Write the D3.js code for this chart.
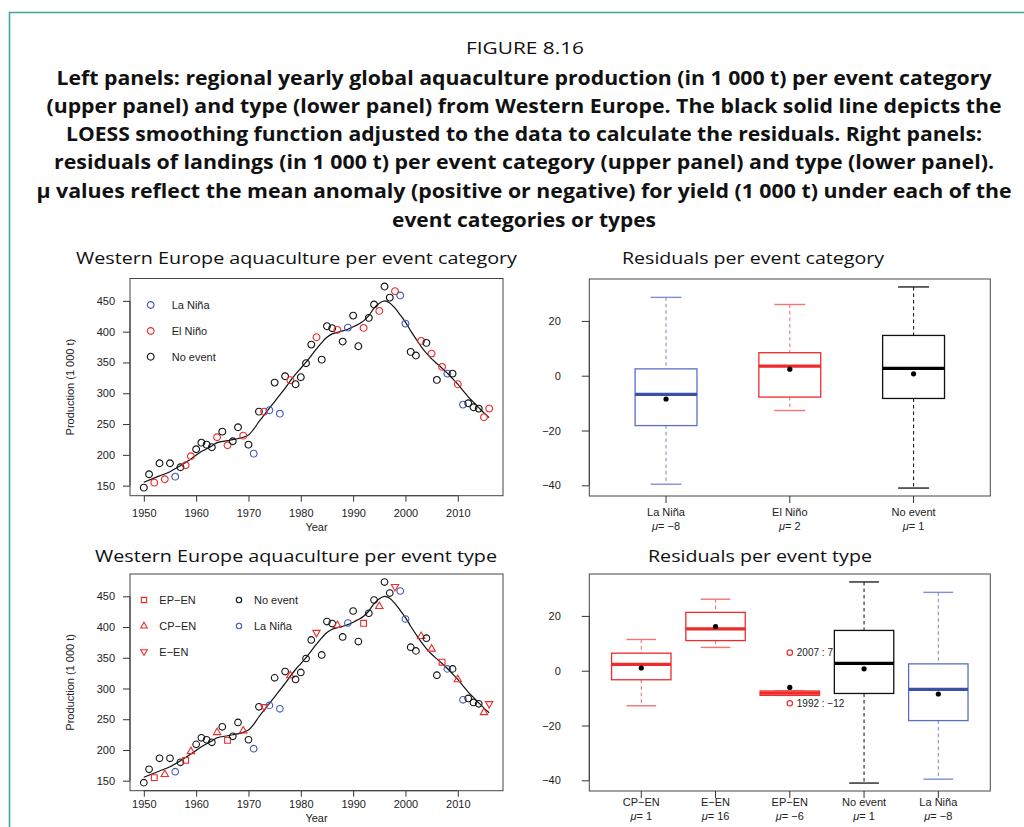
<!DOCTYPE html>
<html><head><meta charset="utf-8">
<script src="https://cdn.jsdelivr.net/npm/d3@7"></script>
<style>body{margin:0;background:#fff}</style></head>
<body><svg id="c" width="1024" height="827"></svg>
<script>
// ---------------- DATA ----------------
const years = [1950,1951,1952,1953,1954,1955,1956,1957,1958,1959,1960,1961,1962,1963,1964,1965,1966,1967,1968,1969,
1970,1971,1972,1973,1974,1975,1976,1977,1978,1979,1980,1981,1982,1983,1984,1985,1986,1987,1988,1989,
1990,1991,1992,1993,1994,1995,1996,1997,1998,1999,2000,2001,2002,2003,2004,2005,2006,2007,2008,2009,
2010,2011,2012,2013,2014,2015,2016];
const production = [146.8,168.5,154.9,186.4,160.4,186.4,164.6,179.9,183.1,197.7,209.1,219.8,216.6,212.4,228.6,237.7,215.6,222.1,244.8,231.2,
216.6,202.0,270.2,270.2,272.5,317.3,266.9,327.6,321.2,314.7,326.1,348.8,379.0,391.0,354.6,408.9,405.6,402.9,383.9,406.6,
426.1,376.4,406.1,422.4,444.0,433.7,473.2,455.3,465.7,458.6,413.1,367.2,361.2,385.0,381.8,364.4,321.7,342.8,331.9,331.9,
314.7,281.6,283.8,277.3,275.1,261.1,275.1];
// event type per year: N = No event, LN = La Niña, EP = EP-EN, CP = CP-EN, E = E-EN
const eventType = ["N","N","EP","N","CP","N","LN","N","EP","CP","N","N","N","N","CP","N","EP","N","N","CP",
"N","LN","N","E","LN","N","LN","N","CP","N","N","N","N","E","N","N","N","CP","N","LN",
"N","N","EP","N","N","CP","N","N","E","LN","LN","N","N","CP","N","CP","N","EP","LN","N",
"CP","LN","N","N","N","CP","E"];
// LOESS smooth
const smoothYears = [1950,1953,1955,1957,1959,1961,1963,1964,1966,1967,1969,1970,1971,1972,1973,1974,1975,1976,1977,1978,1979,1980,
1981,1982,1983,1984,1985,1986,1987,1988,1989,1990,1991,1992,1993,1994,1995,1996,1997,1998,1999,2000,2001,2002,2003,2004,2005,2006,2007,2008,2009,2010,2011,2012,2013,2014,2015,2016];
const smoothValues = [155.5,165.8,172.7,182.5,193.4,205.3,214.5,219.8,223.1,224.7,228.6,232.3,241.6,254.0,264.8,275.7,286.4,297.3,308.2,320.0,330.9,340.6,
350.4,361.2,372.0,382.3,391.0,396.4,399.1,401.3,404.0,407.8,412.1,417.5,426.1,438.1,446.2,450.0,446.7,438.1,427.2,415.4,401.3,388.3,375.8,365.0,355.8,348.2,340.6,332.6,323.8,314.7,304.3,294.1,285.5,276.7,268.1,260.5];
const prodTicks = [150,200,250,300,350,400,450];
const yearTicks = [1950,1960,1970,1980,1990,2000,2010];
const residTicks = [-40,-20,0,20];
// residual box statistics: [lowWhisker, q1, median, q3, highWhisker, mean]
const catGroups = ["La Niña","El Niño","No event"];
const catMu = ["−8","2","1"];
const catStats = [[-39.6,-18.2,-6.8,2.5,28.6,-8.5],[-12.7,-7.8,3.5,8.4,26.0,2.4],[-41.0,-8.3,2.7,14.7,32.4,0.7]];
const typeGroups = ["CP−EN","E−EN","EP−EN","No event","La Niña"];
const typeMu = ["1","16","−6","1","−8"];
const typeStats = [[-12.8,-3.3,2.3,6.4,11.4,1.0],[8.5,11.0,15.3,21.3,26.1,16.1],[-9.0,-9.0,-8.2,-7.4,-7.4,-6.1],
  [-41.0,-8.3,2.7,14.7,32.4,0.7],[-39.6,-18.2,-6.8,2.5,28.6,-8.5]];
const typeOutliers = [{g:2,v:6.6,label:"2007 : 7"},{g:2,v:-11.9,label:"1992 : −12"}];
const titleLines = ["Left panels: regional yearly global aquaculture production (in 1 000 t) per event category",
"(upper panel) and type (lower panel) from Western Europe. The black solid line depicts the",
"LOESS smoothing function adjusted to the data to calculate the residuals. Right panels:",
"residuals of landings (in 1 000 t) per event category (upper panel) and type (lower panel).",
"μ values reflect the mean anomaly (positive or negative) for yield (1 000 t) under each of the",
"event categories or types"];

// ---------------- STYLE ----------------
const BLUE="#4257b8", BLUE_D="#3a4fa6", BLUE_L="#7f90d4";
const RED="#ee2a2a", RED_L="#f27474";
const BLACK="#111";
const AX="Liberation Sans, Arial, sans-serif";
const TF="Open Sans, sans-serif";
const svg=d3.select("#c");
svg.append("rect").attr("width",1024).attr("height",827).attr("fill","#fff");
// teal frame
svg.append("path").attr("d","M9.5,827V12.5H1024").attr("fill","none").attr("stroke","#3fa5a3").attr("stroke-width",1.6);

// titles
svg.append("text").attr("x",525).attr("y",54).attr("text-anchor","middle").attr("font-family",TF)
  .attr("font-size",17).attr("fill","#111").attr("textLength",118).attr("lengthAdjust","spacingAndGlyphs").text("FIGURE 8.16");
const tW=[935,955,916,940,975,264], tY=[85,113,141,169,198,227];
titleLines.forEach((t,i)=>{
  svg.append("text").attr("x",524).attr("y",tY[i]).attr("text-anchor","middle").attr("font-family",TF)
   .attr("font-weight",700).attr("font-size",20).attr("fill","#111")
   .attr("textLength",tW[i]).attr("lengthAdjust","spacingAndGlyphs").text(t);
});
function panelTitle(x,y,w,t){
  svg.append("text").attr("x",x).attr("y",y).attr("text-anchor","middle").attr("font-family",TF)
   .attr("font-size",17).attr("fill","#111").attr("textLength",w).attr("lengthAdjust","spacingAndGlyphs").text(t);
}
panelTitle(296.5,264,441,"Western Europe aquaculture per event category");
panelTitle(753,264,262,"Residuals per event category");
panelTitle(296,562,402,"Western Europe aquaculture per event type");
panelTitle(760,562,224,"Residuals per event type");

function styleAxis(g){
  g.selectAll("text").attr("font-family",AX).attr("font-size",11).attr("fill","#222");
  g.selectAll("line").attr("stroke","#333");
  g.select(".domain").attr("stroke","#333");
}

// symbol paths
const symPath = {
  circle: r=>`M${r},0A${r},${r} 0 1,1 ${-r},0A${r},${r} 0 1,1 ${r},0Z`,
  square: s=>`M${-s},${-s}h${2*s}v${2*s}h${-2*s}Z`,
  up: s=>`M0,${-s*1.15}L${s},${s*0.6}L${-s},${s*0.6}Z`,
  down: s=>`M0,${s*1.15}L${s},${-s*0.6}L${-s},${-s*0.6}Z`
};
function catOf(t){return t==="N"?"N":(t==="LN"?"LN":"EN");}

// ---------------- SCATTER PANELS ----------------
function scatterPanel(top, bottom, mode, xLabY, yearY){
  const x=d3.scaleLinear().domain([1947.36,2018.64]).range([130,503]);
  const y=d3.scaleLinear().domain([133.7,486.3]).range([bottom,top]);
  const g=svg.append("g");
  // axes
  const ga=g.append("g").attr("transform","translate(130,0)")
    .call(d3.axisLeft(y).tickValues(prodTicks).tickSize(7).tickPadding(8).tickSizeOuter(0));
  styleAxis(ga);
  const gb=g.append("g").attr("transform",`translate(0,${bottom})`)
    .call(d3.axisBottom(x).tickValues(yearTicks).tickFormat(d3.format("d")).tickSize(6).tickPadding(0).tickSizeOuter(0));
  styleAxis(gb);
  gb.selectAll("text").attr("dy",null).attr("y",xLabY-bottom);
  ga.select(".domain").attr("d",`M0,${y(150)}V${y(450)}`);
  gb.select(".domain").attr("d",`M${x(1950)},0H${x(2010)}`);
  g.append("rect").attr("x",130).attr("y",top).attr("width",373).attr("height",bottom-top)
    .attr("fill","none").attr("stroke","#444").attr("stroke-width",1);
  g.append("text").attr("x",x(1950+ (2018.64-1947.36)/2 -2.64+1.32+0.0)).attr("x",316.5).attr("y",yearY).attr("text-anchor","middle")
    .attr("font-family",AX).attr("font-size",11).attr("fill","#222").text("Year");
  const cy=(top+bottom)/2;
  g.append("text").attr("transform",`translate(74,${cy}) rotate(-90)`).attr("text-anchor","middle")
    .attr("font-family",AX).attr("font-size",11).attr("fill","#222").text("Production (1 000 t)");
  // smooth
  const line=d3.line().x((d,i)=>x(smoothYears[i])).y(d=>y(d)).curve(d3.curveCatmullRom.alpha(0.5));
  g.append("path").attr("d",line(smoothValues)).attr("fill","none").attr("stroke","#111").attr("stroke-width",1.2);
  // points
  years.forEach((yr,i)=>{
    const t=eventType[i]; let col, d;
    if(mode==="cat"){
      const c=catOf(t); col=c==="N"?BLACK:(c==="LN"?BLUE:RED); d=symPath.circle(3.4);
    } else {
      if(t==="N"){col=BLACK;d=symPath.circle(3.3);}
      else if(t==="LN"){col=BLUE;d=symPath.circle(3.3);}
      else {col=RED; d= t==="EP"?symPath.square(2.9):(t==="CP"?symPath.up(3.7):symPath.down(3.7));}
    }
    g.append("path").attr("d",d).attr("transform",`translate(${x(yr)},${y(production[i])})`)
      .attr("fill","none").attr("stroke",col).attr("stroke-width",1.1);
  });
  // legend
  const lt=(sx,tx,yy,d,col,txt)=>{
    g.append("path").attr("d",d).attr("transform",`translate(${sx},${yy})`).attr("fill","none").attr("stroke",col).attr("stroke-width",1.1);
    g.append("text").attr("x",tx).attr("y",yy+4).attr("font-family",AX).attr("font-size",11).attr("fill","#222").text(txt);
  };
  if(mode==="cat"){
    lt(150.7,171.7,top+26.5,symPath.circle(3.4),BLUE,"La Niña");
    lt(150.7,171.7,top+52.5,symPath.circle(3.4),RED,"El Niño");
    lt(150.7,171.7,top+78.2,symPath.circle(3.4),BLACK,"No event");
  } else {
    lt(144,159.3,top+26,symPath.square(2.6),RED,"EP−EN");
    lt(144,159.3,top+52,symPath.up(3.3),RED,"CP−EN");
    lt(144,159.3,top+77.7,symPath.down(3.3),RED,"E−EN");
    lt(239,254,top+26,symPath.circle(2.7),BLACK,"No event");
    lt(239,254,top+52,symPath.circle(2.7),BLUE,"La Niña");
  }
}
scatterPanel(278.5,495.7,"cat",517,531);
scatterPanel(574,790.7,"type",808,822);

// ---------------- BOX PANELS ----------------
function boxPanel(top,bottom,groups,mus,stats,colors,boxW,lab1Y,lab2Y,outliers){
  const n=groups.length;
  const pad=n*0.04;
  const x=d3.scaleLinear().domain([0.5-pad,n+0.5+pad]).range([589.3,990.3]);
  const y=d3.scaleLinear().domain([-43.9,35.3]).range([bottom,top]);
  const g=svg.append("g");
  const ga=g.append("g").attr("transform","translate(589.3,0)")
    .call(d3.axisLeft(y).tickValues(residTicks).tickSize(7.5).tickPadding(21).tickSizeOuter(0));
  styleAxis(ga);
  ga.select(".domain").attr("d",`M0,${y(-40)}V${y(20)}`);
  g.append("rect").attr("x",589.3).attr("y",top).attr("width",401).attr("height",bottom-top)
    .attr("fill","none").attr("stroke","#444").attr("stroke-width",1);
  stats.forEach((s,i)=>{
    const cx=x(i+1), c=colors[i];
    const hw=(x(boxW/2)-x(0)), sw=hw/2;
    // whiskers
    g.append("line").attr("x1",cx).attr("x2",cx).attr("y1",y(s[4])).attr("y2",y(s[3]))
      .attr("stroke",c.w).attr("stroke-dasharray","3.5,3").attr("stroke-width",1.1);
    g.append("line").attr("x1",cx).attr("x2",cx).attr("y1",y(s[1])).attr("y2",y(s[0]))
      .attr("stroke",c.w).attr("stroke-dasharray","3.5,3").attr("stroke-width",1.1);
    [s[0],s[4]].forEach(v=>g.append("line").attr("x1",cx-sw).attr("x2",cx+sw).attr("y1",y(v)).attr("y2",y(v))
      .attr("stroke",c.w).attr("stroke-width",1.4));
    g.append("rect").attr("x",cx-hw).attr("y",y(s[3])).attr("width",2*hw).attr("height",Math.max(0,y(s[1])-y(s[3])))
      .attr("fill","#fff").attr("stroke",c.b).attr("stroke-width",1.3);
    g.append("line").attr("x1",cx-hw).attr("x2",cx+hw).attr("y1",y(s[2])).attr("y2",y(s[2]))
      .attr("stroke",c.m).attr("stroke-width",3.2);
    g.append("circle").attr("cx",cx).attr("cy",y(s[5])).attr("r",2.6).attr("fill","#000");
    // x tick + labels
    g.append("line").attr("x1",cx).attr("x2",cx).attr("y1",bottom).attr("y2",bottom+7).attr("stroke","#333");
    g.append("text").attr("x",cx).attr("y",lab1Y).attr("text-anchor","middle").attr("font-family",AX)
      .attr("font-size",11).attr("fill","#222").text(groups[i]);
    const t=g.append("text").attr("x",cx).attr("y",lab2Y).attr("text-anchor","middle").attr("font-family",AX)
      .attr("font-size",11).attr("fill","#222");
    t.append("tspan").attr("font-style","italic").text("μ");
    t.append("tspan").text("= "+mus[i]);
  });
  (outliers||[]).forEach(o=>{
    const cx=x(o.g+1);
    g.append("circle").attr("cx",cx).attr("cy",y(o.v)).attr("r",2.7).attr("fill","none").attr("stroke",RED).attr("stroke-width",1.2);
    g.append("text").attr("x",cx+7).attr("y",y(o.v)+3.5).attr("font-family",AX).attr("font-size",10).attr("fill","#222").text(o.label);
  });
}
const cBlue={w:BLUE_L,b:"#5a6fc4",m:BLUE_D}, cRed={w:RED_L,b:RED,m:RED}, cBlack={w:"#222",b:"#111",m:"#000"};
boxPanel(279,496,catGroups,catMu,catStats,[cBlue,cRed,cBlack],0.5,516,529.5);
boxPanel(574,791,typeGroups,typeMu,typeStats,[cRed,cRed,cRed,cBlack,cBlue],0.8,806,820,typeOutliers);
</script>
</body></html>
